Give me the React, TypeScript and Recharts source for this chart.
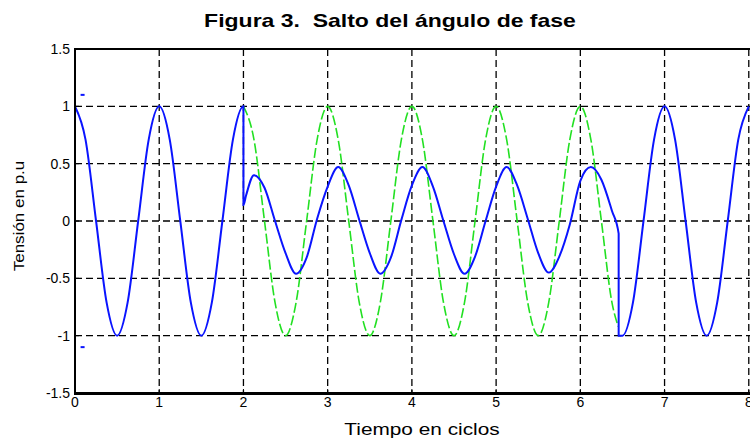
import { ComposedChart, Line, Scatter, XAxis, YAxis, CartesianGrid } from 'recharts'

// tensión antes del salto (0 a 2 ciclos)
const tiempoAntes = [0, 0.125, 0.25, 0.375, 0.5, 0.625, 0.75, 0.875, 1, 1.125, 1.25, 1.375, 1.5, 1.625, 1.75, 1.875, 2]
const tensionAntes = [1, 0.71, 0, -0.71, -1, -0.71, 0, 0.71, 1, 0.71, 0, -0.71, -1, -0.71, 0, 0.71, 1]

// tras el salto de fase: amplitud reducida
const tiempoSalto = [
  2, 2.03, 2.125, 2.25, 2.375, 2.5, 2.625, 2.75, 2.875,
  3, 3.125, 3.25, 3.375, 3.5, 3.625, 3.75, 3.875,
  4, 4.125, 4.25, 4.375, 4.5, 4.625, 4.75, 4.875,
  5, 5.125, 5.25, 5.375, 5.5, 5.625, 5.75, 5.875,
  6, 6.125, 6.25, 6.375, 6.455,
]
const tensionSalto = [
  0.14, 0.22, 0.4, 0.29, 0, -0.28, -0.46, -0.32, 0.02,
  0.3, 0.47, 0.31, 0.01, -0.28, -0.46, -0.32, 0.01,
  0.31, 0.47, 0.3, 0, -0.29, -0.46, -0.31, 0,
  0.3, 0.47, 0.31, 0.02, -0.28, -0.45, -0.31, -0.03,
  0.35, 0.47, 0.36, 0.09, -0.11,
]

// recuperación (6.45 a 8 ciclos)
const tiempoDespues = [6.455, 6.5, 6.625, 6.75, 6.875, 7, 7.125, 7.25, 7.375, 7.5, 7.625, 7.75, 7.875, 8]
const tensionDespues = [-1, -1, -0.71, 0, 0.71, 1, 0.71, 0, -0.71, -1, -0.71, 0, 0.71, 1]

// onda de referencia sin salto (verde discontinua)
const tiempoRef = [
  2, 2.125, 2.25, 2.375, 2.5, 2.625, 2.75, 2.875,
  3, 3.125, 3.25, 3.375, 3.5, 3.625, 3.75, 3.875,
  4, 4.125, 4.25, 4.375, 4.5, 4.625, 4.75, 4.875,
  5, 5.125, 5.25, 5.375, 5.5, 5.625, 5.75, 5.875,
  6, 6.125, 6.25, 6.375, 6.45,
]
const tensionRef = [
  1, 0.71, 0, -0.71, -1, -0.71, 0, 0.71,
  1, 0.71, 0, -0.71, -1, -0.71, 0, 0.71,
  1, 0.71, 0, -0.71, -1, -0.71, 0, 0.71,
  1, 0.71, 0, -0.71, -1, -0.71, 0, 0.71,
  1, 0.71, 0, -0.71, -0.92,
]

// dos marcas sueltas cerca de t = 0
const marcasT = [0.09, 0.09]
const marcasV = [1.1, -1.1]

const xTicks = [0, 1, 2, 3, 4, 5, 6, 7, 8]
const yTicks = [-1.5, -1, -0.5, 0, 0.5, 1, 1.5]

const zip = (ts: number[], vs: number[]) => ts.map((t, i) => ({ t, v: vs[i] }))

const azul = [
  ...zip(tiempoAntes, tensionAntes),
  ...zip(tiempoSalto, tensionSalto),
  ...zip(tiempoDespues, tensionDespues),
]
const verde = zip(tiempoRef, tensionRef)
const marcas = zip(marcasT, marcasV)

const font = '"Liberation Sans", Arial, sans-serif'
const tickStyle = { fontSize: 14, fill: '#000', fontFamily: font }
const axisLine = { stroke: '#000', strokeWidth: 2 }

// the axes box runs a little past the right edge of the picture
const W = 770

export default function App() {
  return (
    <div
      style={{
        position: 'absolute',
        left: 0,
        top: 0,
        width: 750,
        height: 440,
        overflow: 'hidden',
        background: '#fff',
        fontFamily: font,
      }}
    >
      <div
        style={{
          position: 'absolute',
          top: 10,
          left: 390,
          transform: 'translateX(-50%) scaleX(1.21)',
          whiteSpace: 'pre',
          fontSize: 19,
          lineHeight: '22px',
          fontWeight: 'bold',
        }}
      >
        {'Figura 3.  Salto del ángulo de fase'}
      </div>

      <ComposedChart width={W} height={440} margin={{ top: 49, right: 0, bottom: 0, left: 0 }}>
        <CartesianGrid stroke="#000" strokeWidth={1.3} strokeDasharray="7 4" />
        <XAxis
          dataKey="t"
          type="number"
          domain={[0, 8.24]}
          ticks={xTicks}
          allowDataOverflow
          height={47}
          tick={tickStyle}
          tickSize={-4}
          tickMargin={8}
          axisLine={axisLine}
          tickLine={{ stroke: '#000' }}
        />
        <XAxis
          xAxisId="top"
          orientation="top"
          type="number"
          domain={[0, 8.24]}
          ticks={xTicks}
          allowDataOverflow
          height={0}
          tickSize={-4}
          tickFormatter={() => ''}
          axisLine={axisLine}
          tickLine={{ stroke: '#000' }}
        />
        <YAxis
          type="number"
          domain={[-1.5, 1.5]}
          ticks={yTicks}
          allowDataOverflow
          width={75}
          tick={tickStyle}
          tickSize={-4}
          tickMargin={9}
          axisLine={axisLine}
          tickLine={{ stroke: '#000' }}
        />
        <YAxis
          yAxisId="right"
          orientation="right"
          type="number"
          domain={[-1.5, 1.5]}
          ticks={yTicks}
          allowDataOverflow
          width={1}
          tickSize={-4}
          tickFormatter={() => ''}
          axisLine={axisLine}
          tickLine={{ stroke: '#000' }}
        />
        <Line
          data={verde}
          dataKey="v"
          type="monotone"
          stroke="#22e022"
          strokeWidth={1.6}
          strokeDasharray="10 3"
          dot={false}
          isAnimationActive={false}
        />
        <Line
          data={azul}
          dataKey="v"
          type="monotone"
          stroke="#0a14ff"
          strokeWidth={2}
          dot={false}
          isAnimationActive={false}
        />
        <Scatter
          data={marcas}
          dataKey="v"
          fill="#0a14ff"
          isAnimationActive={false}
          shape={(p: any) => <rect x={p.cx - 2} y={p.cy - 1} width={4} height={2} fill="#0a14ff" />}
        />
      </ComposedChart>

      {/* marco negro de los ejes */}
      <div
        style={{
          position: 'absolute',
          left: 74,
          top: 48,
          width: W - 1 - 74 - 4,
          height: 393 - 48 - 4 + 2,
          border: '2px solid #000',
          pointerEvents: 'none',
        }}
      />

      <div
        style={{
          position: 'absolute',
          top: 421,
          left: 422,
          transform: 'translateX(-50%) scaleX(1.3)',
          fontSize: 16,
          lineHeight: '18px',
          whiteSpace: 'pre',
        }}
      >
        Tiempo en ciclos
      </div>
      <div
        style={{
          position: 'absolute',
          top: 216,
          left: 20,
          transform: 'translate(-50%, -50%) rotate(-90deg) scaleY(0.85)',
          fontSize: 17,
          lineHeight: '18px',
          whiteSpace: 'pre',
        }}
      >
        Tensión en p.u
      </div>
    </div>
  )
}
